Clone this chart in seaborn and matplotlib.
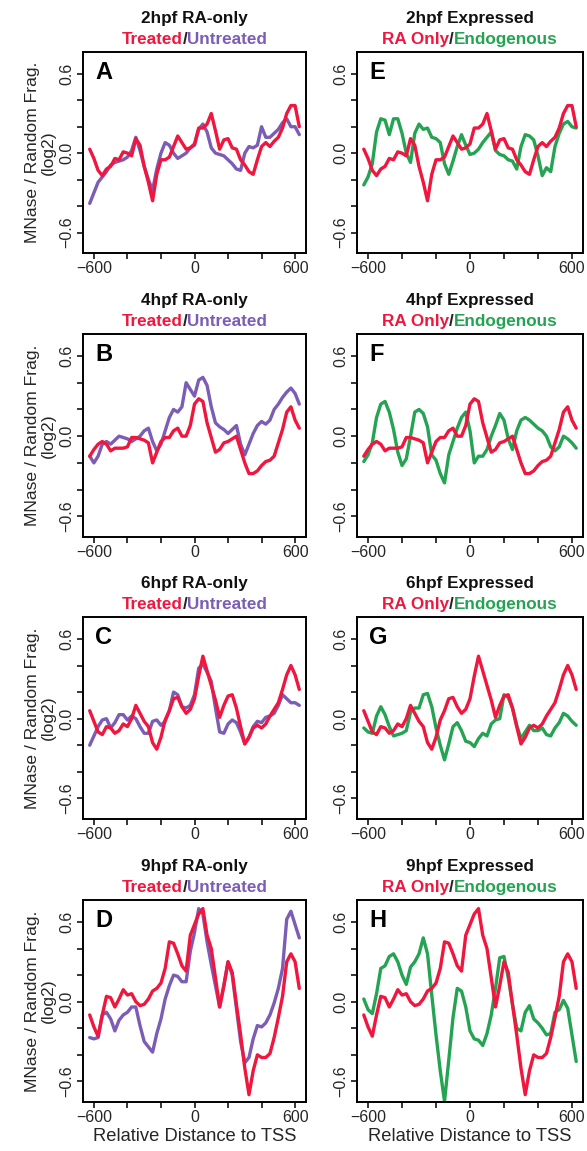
import numpy as np
import pandas as pd
import matplotlib
matplotlib.use("Agg")
import matplotlib.pyplot as plt
import seaborn as sns

# ---------------- data ----------------
positions = list(range(-625, 626, 25))

red_2hpf = [0.03, -0.04, -0.13, -0.17, -0.12, -0.10, -0.04, -0.05, 0.01, 0.00,
            -0.02, 0.11, 0.06, -0.10, -0.22, -0.36, -0.16, -0.05, -0.05, -0.03,
            0.05, 0.13, 0.08, 0.03, 0.04, 0.07, 0.19, 0.19, 0.22, 0.30,
            0.17, 0.03, 0.10, 0.11, 0.04, 0.03, -0.05, -0.09, -0.14, -0.16,
            -0.05, 0.05, 0.08, 0.05, 0.09, 0.12, 0.19, 0.30, 0.36, 0.36, 0.20]
purple_2hpf = [-0.38, -0.30, -0.22, -0.18, -0.14, -0.09, -0.07, -0.06, -0.05, -0.03,
               0.02, 0.12, 0.02, -0.10, -0.20, -0.28, -0.12, 0.00, 0.08, 0.06,
               0.00, -0.04, -0.02, 0.00, 0.04, 0.06, 0.18, 0.22, 0.16, 0.04,
               0.00, -0.01, -0.02, -0.05, -0.08, -0.12, -0.13, 0.00, 0.05, 0.04,
               0.06, 0.20, 0.12, 0.12, 0.15, 0.18, 0.23, 0.26, 0.20, 0.20, 0.14]
green_2hpf = [-0.24, -0.18, -0.08, 0.16, 0.26, 0.25, 0.14, 0.26, 0.26, 0.15,
              0.00, -0.07, 0.15, 0.22, 0.18, 0.19, 0.12, 0.11, 0.08, -0.08,
              -0.16, -0.06, 0.05, 0.14, 0.06, -0.01, 0.00, 0.03, 0.08, 0.12,
              0.16, 0.02, -0.01, -0.02, -0.05, -0.06, -0.12, 0.05, 0.14, 0.13,
              0.10, -0.02, -0.17, -0.11, -0.14, 0.05, 0.15, 0.22, 0.24, 0.20, 0.19]

red_4hpf = [-0.15, -0.10, -0.06, -0.04, -0.06, -0.11, -0.09, -0.09, -0.09, -0.08,
            -0.01, -0.01, -0.02, -0.03, -0.05, -0.20, -0.12, -0.04, -0.01, -0.01,
            0.04, 0.06, 0.00, 0.00, 0.08, 0.24, 0.28, 0.26, 0.10, -0.01,
            -0.12, -0.10, -0.05, -0.04, -0.02, 0.00, -0.10, -0.20, -0.28, -0.28,
            -0.26, -0.22, -0.19, -0.18, -0.15, -0.05, 0.05, 0.18, 0.22, 0.12, 0.06]
purple_4hpf = [-0.15, -0.20, -0.15, -0.06, -0.04, -0.06, -0.03, 0.00, -0.01, -0.02,
               -0.04, -0.02, 0.00, 0.04, 0.06, -0.04, -0.11, -0.06, 0.04, 0.14,
               0.20, 0.18, 0.22, 0.40, 0.35, 0.30, 0.42, 0.44, 0.38, 0.22,
               0.10, 0.07, 0.05, 0.02, 0.05, 0.08, -0.06, -0.14, -0.06, 0.02,
               0.08, 0.11, 0.09, 0.12, 0.20, 0.24, 0.29, 0.33, 0.36, 0.32, 0.24]
green_4hpf = [-0.19, -0.14, -0.05, 0.14, 0.24, 0.26, 0.18, 0.05, -0.12, -0.22,
              -0.17, 0.00, 0.18, 0.20, 0.17, 0.07, -0.14, -0.18, -0.28, -0.35,
              -0.14, -0.04, 0.06, 0.14, 0.18, 0.04, -0.20, -0.15, -0.15, -0.10,
              0.00, 0.08, 0.17, 0.12, -0.02, -0.10, 0.04, 0.12, 0.14, 0.12,
              0.09, 0.06, 0.04, 0.00, -0.08, -0.11, -0.08, 0.00, -0.02, -0.05, -0.09]

red_6hpf = [0.06, -0.02, -0.10, -0.12, -0.06, -0.07, -0.11, -0.09, -0.04, -0.06,
            0.00, 0.10, 0.04, -0.02, -0.06, -0.18, -0.23, -0.14, -0.01, 0.06,
            0.15, 0.16, 0.09, 0.04, 0.07, 0.15, 0.32, 0.47, 0.36, 0.25,
            0.14, 0.01, 0.10, 0.17, 0.18, 0.08, -0.06, -0.19, -0.14, -0.07,
            -0.05, -0.07, -0.04, 0.02, 0.07, 0.12, 0.22, 0.33, 0.40, 0.33, 0.22]
purple_6hpf = [-0.20, -0.13, -0.06, -0.01, 0.00, -0.07, -0.03, 0.03, 0.03, -0.01,
               0.02, 0.00, -0.06, -0.11, -0.11, -0.02, -0.01, -0.05, -0.02, 0.06,
               0.20, 0.18, 0.09, 0.08, 0.10, 0.18, 0.38, 0.41, 0.35, 0.28,
               0.08, -0.10, -0.11, -0.04, -0.01, -0.03, -0.10, -0.19, -0.14, -0.06,
               -0.02, -0.03, 0.01, 0.02, 0.04, 0.10, 0.18, 0.15, 0.12, 0.12, 0.10]
green_6hpf = [-0.07, -0.10, -0.11, 0.02, 0.09, 0.03, -0.06, -0.13, -0.12, -0.11,
              -0.09, 0.05, 0.08, 0.08, 0.18, 0.19, 0.09, -0.07, -0.20, -0.31,
              -0.19, -0.06, -0.03, -0.09, -0.17, -0.18, -0.21, -0.15, -0.11, -0.13,
              -0.04, -0.01, 0.00, 0.18, 0.16, 0.08, -0.05, -0.15, -0.10, -0.05,
              -0.09, -0.09, -0.07, -0.12, -0.13, -0.07, -0.03, 0.04, 0.02, -0.02, -0.05]

red_9hpf = [-0.10, -0.19, -0.26, -0.10, 0.04, 0.03, -0.04, 0.02, 0.09, 0.05,
            0.06, 0.00, -0.03, -0.02, 0.02, 0.08, 0.10, 0.14, 0.25, 0.45,
            0.44, 0.36, 0.27, 0.23, 0.50, 0.58, 0.66, 0.70, 0.50, 0.40,
            0.18, -0.04, 0.12, 0.30, 0.22, -0.02, -0.25, -0.50, -0.70, -0.52,
            -0.40, -0.42, -0.42, -0.39, -0.27, -0.12, 0.04, 0.30, 0.36, 0.30, 0.10]
purple_9hpf = [-0.27, -0.28, -0.27, -0.10, -0.08, -0.13, -0.22, -0.14, -0.10, -0.08,
               -0.04, -0.04, -0.18, -0.30, -0.34, -0.38, -0.24, -0.13, 0.02, 0.12,
               0.20, 0.19, 0.15, 0.15, 0.38, 0.52, 0.70, 0.66, 0.45, 0.28,
               0.12, -0.04, 0.12, 0.30, 0.20, -0.05, -0.30, -0.46, -0.42, -0.28,
               -0.18, -0.19, -0.16, -0.10, -0.01, 0.10, 0.25, 0.62, 0.68, 0.58, 0.48]
green_9hpf = [0.02, -0.06, -0.09, 0.06, 0.25, 0.27, 0.34, 0.36, 0.30, 0.20,
              0.13, 0.26, 0.30, 0.36, 0.48, 0.36, 0.05, -0.25, -0.52, -0.75,
              -0.44, -0.12, 0.10, 0.08, -0.04, -0.22, -0.28, -0.29, -0.33, -0.24,
              -0.10, 0.10, 0.33, 0.34, 0.18, -0.02, -0.20, -0.22, -0.08, -0.03,
              -0.13, -0.16, -0.20, -0.25, -0.24, -0.08, -0.06, 0.01, -0.05, -0.25, -0.45]

stages = ["2hpf", "4hpf", "6hpf", "9hpf"]
left_letters = ["A", "B", "C", "D"]
right_letters = ["E", "F", "G", "H"]
x_ticks = [-600, -400, -200, 0, 200, 400, 600]
x_ticklabels = ["\u2212600", "", "", "0", "", "", "600"]
y_ticks = [-0.6, -0.4, -0.2, 0.0, 0.2, 0.4, 0.6]
y_ticklabels = ["\u22120.6", "", "", "0.0", "", "", "0.6"]

reds = [red_2hpf, red_4hpf, red_6hpf, red_9hpf]
purples = [purple_2hpf, purple_4hpf, purple_6hpf, purple_9hpf]
greens = [green_2hpf, green_4hpf, green_6hpf, green_9hpf]
for s in reds + purples + greens:
    assert len(s) == len(positions)

RED = "#f0163e"
PURPLE = "#7b5db6"
GREEN = "#24a452"

# ---------------- style ----------------
sns.set_theme(style="white")
plt.rcParams["font.family"] = ["Liberation Sans", "DejaVu Sans"]
plt.rcParams["axes.edgecolor"] = "black"
plt.rcParams["axes.linewidth"] = 1.4

fig = plt.figure(figsize=(5.87, 11.51), dpi=100)
fig.patch.set_facecolor("white")
renderer = fig.canvas.get_renderer()

W, H = 587.0, 1151.0
col_lr = [(83, 306), (357, 583)]
row_tb = [(52, 253), (334, 537), (617, 819), (900, 1102)]

TITLE_FS = 12.3
TICK_FS = 11.5
LABEL_FS = 12.6


def colored_line(ax, parts, dy, fs, bold=True):
    widths = []
    for s, c in parts:
        t = fig.text(0, 0, s, fontsize=fs, fontweight="bold" if bold else "normal")
        widths.append(t.get_window_extent(renderer).width)
        t.remove()
    total = sum(widths)
    x = -total / 2.0
    for (s, c), w in zip(parts, widths):
        ax.annotate(s, xy=(0.5, 1.0), xycoords="axes fraction",
                    xytext=(x, dy), textcoords="offset pixels",
                    ha="left", va="baseline", color=c, fontsize=fs,
                    fontweight="bold" if bold else "normal",
                    annotation_clip=False)
        x += w


for r in range(4):
    for c in range(2):
        l, rr = col_lr[c]
        t, b = row_tb[r]
        ax = fig.add_axes([l / W, 1 - b / H, (rr - l) / W, (b - t) / H])
        if c == 0:
            names = ["Untreated", "Treated"]
            other = purples[r]
            ocol = PURPLE
            title1 = f"{stages[r]} RA-only"
            parts = [("Treated", RED), ("/", "#222222"), ("Untreated", PURPLE)]
            letter = left_letters[r]
        else:
            names = ["Endogenous", "RA Only"]
            other = greens[r]
            ocol = GREEN
            title1 = f"{stages[r]} Expressed"
            parts = [("RA Only", RED), ("/", "#222222"), ("Endogenous", GREEN)]
            letter = right_letters[r]
        df = pd.DataFrame({
            "pos": positions * 2,
            "val": list(other) + list(reds[r]),
            "series": [names[0]] * len(positions) + [names[1]] * len(positions),
        })
        sns.lineplot(data=df, x="pos", y="val", hue="series",
                     hue_order=names, palette={names[0]: ocol, names[1]: RED},
                     estimator=None, linewidth=2.4, legend=False, ax=ax)
        ax.set_xlim(-665, 665)
        ax.set_ylim(-0.755, 0.765)
        ax.set_xticks(x_ticks)
        ax.set_xticklabels(x_ticklabels, fontsize=TICK_FS)
        ax.set_yticks(y_ticks)
        ax.set_yticklabels(y_ticklabels, fontsize=TICK_FS, rotation=90, va="center")
        ax.tick_params(axis="both", direction="out", length=4, width=1.1,
                       color="black", bottom=True, left=True, pad=2)
        for sp in ax.spines.values():
            sp.set_visible(True)
            sp.set_color("black")
            sp.set_linewidth(1.4)
        if c == 0:
            ax.set_ylabel("MNase / Random Frag.\n(log2)", fontsize=LABEL_FS,
                          linespacing=1.05, labelpad=3)
        else:
            ax.set_ylabel("")
        if r == 3:
            ax.set_xlabel("Relative Distance to TSS", fontsize=13.2, labelpad=2)
        else:
            ax.set_xlabel("")
        ax.text(0.055, 0.955, letter, transform=ax.transAxes, fontsize=17,
                fontweight="bold", va="top", ha="left", color="black")
        ax.annotate(title1, xy=(0.5, 1.0), xycoords="axes fraction",
                    xytext=(0, 29), textcoords="offset pixels", ha="center",
                    va="baseline", fontsize=TITLE_FS, fontweight="bold",
                    color="#111111", annotation_clip=False)
        colored_line(ax, parts, 8, TITLE_FS)

fig.savefig("out.png", dpi=100, facecolor="white")
